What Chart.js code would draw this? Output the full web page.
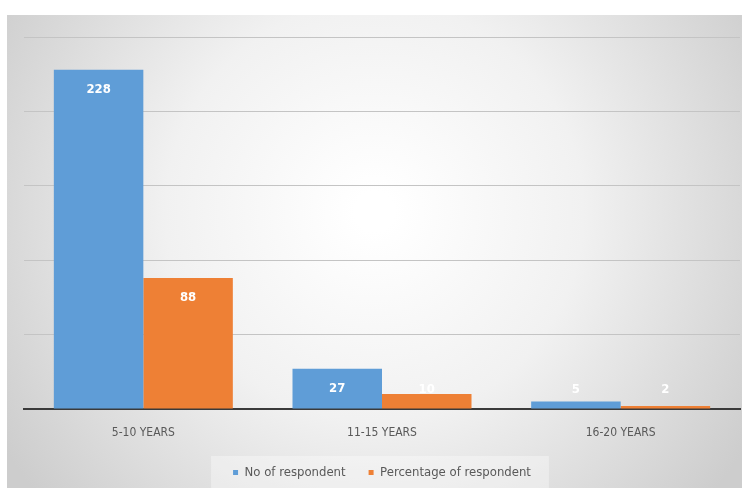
<!DOCTYPE html>
<html>
<head>
<meta charset="utf-8">
<script src="https://cdn.jsdelivr.net/npm/chart.js@4/dist/chart.umd.min.js"></script>
<style>
  html, body { margin: 0; padding: 0; background: #ffffff; }
  #wrap { width: 745px; height: 494px; position: relative; }
</style>
</head>
<body>
<div id="wrap"><canvas id="c" width="745" height="494"></canvas></div>
<script>
const categories = ['5-10 YEARS', '11-15 YEARS', '16-20 YEARS'];
const respondents = [228, 27, 5];
const percentages = [88, 10, 2];
const seriesNames = ['No of respondent', 'Percentage of respondent'];

const FONT = '"Liberation Sans Narrow", "DejaVu Sans Condensed", "Liberation Sans", sans-serif';

// Soft grey panel that lightens toward the middle
const panelBackground = {
  id: 'panelBackground',
  beforeDraw(chart) {
    const ctx = chart.ctx;
    const x0 = 7, y0 = 15, x1 = 742, y1 = 488;
    const cx = (x0 + x1) / 2, cy = (y0 + y1) / 2 - 40;
    const g = ctx.createRadialGradient(cx, cy, 20, cx, cy, 440);
    g.addColorStop(0, '#ffffff');
    g.addColorStop(0.45, '#f1f1f1');
    g.addColorStop(1, '#cdcdcd');
    ctx.save();
    ctx.fillStyle = g;
    ctx.fillRect(x0, y0, x1 - x0, y1 - y0);
    // lighter strip behind the legend entries
    const lg = chart.legend;
    if (lg && lg.legendHitBoxes && lg.legendHitBoxes.length) {
      const hb = lg.legendHitBoxes;
      const l = hb[0].left - 22, r = hb[hb.length - 1].left + hb[hb.length - 1].width + 18;
      const t = hb[0].top - 10, h = hb[0].height + 20;
      ctx.fillStyle = 'rgba(255,255,255,0.35)';
      ctx.fillRect(l, t, r - l, h);
    }
    ctx.restore();
  }
};

// White value labels near the top of each bar
const valueLabels = {
  id: 'valueLabels',
  afterDatasetsDraw(chart) {
    const ctx = chart.ctx;
    ctx.save();
    ctx.font = 'bold 13px ' + FONT;
    ctx.fillStyle = '#ffffff';
    ctx.textAlign = 'center';
    ctx.textBaseline = 'middle';
    chart.data.datasets.forEach((ds, di) => {
      const meta = chart.getDatasetMeta(di);
      meta.data.forEach((bar, i) => {
        const y = Math.min(bar.y + 20, bar.base - 19);
        ctx.fillText(String(ds.data[i]), bar.x, y);
      });
    });
    ctx.restore();
  }
};

new Chart(document.getElementById('c'), {
  type: 'bar',
  data: {
    labels: categories,
    datasets: [
      { label: seriesNames[0], data: respondents, backgroundColor: '#5f9dd7', borderWidth: 0 },
      { label: seriesNames[1], data: percentages, backgroundColor: '#ee8035', borderWidth: 0 }
    ]
  },
  options: {
    responsive: false,
    animation: false,
    layout: { padding: { left: 24, right: 5, top: 37, bottom: 5 } },
    datasets: { bar: { categoryPercentage: 0.75, barPercentage: 1.0 } },
    scales: {
      x: {
        grid: { display: false, drawTicks: false },
        border: { display: true, color: '#3a3a3a', width: 2 },
        ticks: { color: '#595959', font: { family: FONT, size: 12 }, padding: 17 },
        afterFit(scale) { scale.height = 34; }
      },
      y: {
        min: 0, max: 250,
        ticks: { display: false, stepSize: 50 },
        grid: { color: '#c4c4c4', lineWidth: 1, drawTicks: false },
        border: { display: false }
      }
    },
    plugins: {
      legend: {
        position: 'bottom',
        labels: {
          usePointStyle: true,
          pointStyle: 'rect',
          boxWidth: 5,
          boxHeight: 5,
          color: '#595959',
          font: { family: FONT, size: 13 },
          padding: 23
        }
      },
      tooltip: { enabled: false }
    }
  },
  plugins: [panelBackground, valueLabels]
});
</script>
</body>
</html>
